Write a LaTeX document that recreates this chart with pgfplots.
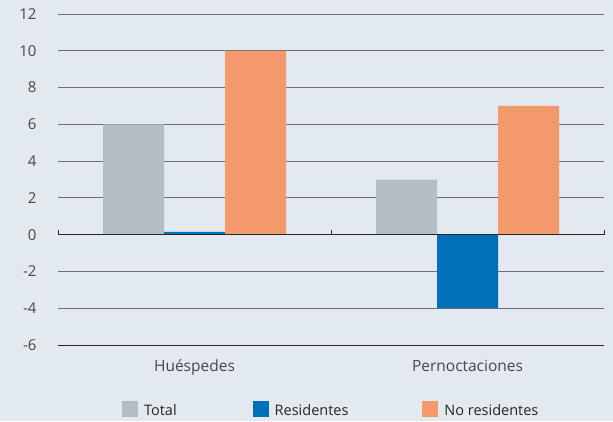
\documentclass[border=0pt]{standalone}
\usepackage{fontspec}
\setmainfont{Open Sans}
\usepackage{pgfplots}
\pgfplotsset{compat=1.18}
\usetikzlibrary{backgrounds}

\definecolor{bgc}{HTML}{E2EAF0}
\definecolor{cTotal}{HTML}{B3BEC3}
\definecolor{cRes}{HTML}{0070B8}
\definecolor{cNoRes}{HTML}{F4996C}
\definecolor{gridc}{HTML}{6A7075}
\definecolor{txtc}{HTML}{474747}

\begin{document}
\begin{tikzpicture}[x=1bp,y=1bp]
\begin{axis}[
    at={(58bp,76bp)}, anchor=south west,
    scale only axis, width=546bp, height=331bp,
    xmin=-0.5, xmax=1.5,
    ymin=-6, ymax=12,
    ytick={-6,-4,...,12},
    xtick={0,1},
    xticklabels={Huéspedes,Pernoctaciones},
    axis line style={draw=none},
    major tick style={draw=none},
    ymajorgrids,
    grid style={gridc, line width=0.8pt},
    yticklabel style={font=\fontsize{15bp}{17bp}\selectfont, text=txtc, anchor=east, xshift=-18bp},
    xticklabel style={font=\fontsize{15.5bp}{17bp}\selectfont, text=txtc, yshift=-7bp},
    /pgf/number format/assume math mode=true,
    axis background/.style={fill=bgc},
    ybar=0pt, bar width=61bp,
    legend columns=3,
    legend style={draw=none, fill=none, at={(0.117,0)}, anchor=west, yshift=-65bp,
      font=\fontsize{14.5bp}{16bp}\selectfont, inner sep=0pt, text=black!85,
      /tikz/column 1/.style={column sep=4bp},
      /tikz/column 3/.style={column sep=4bp},
      /tikz/column 5/.style={column sep=4bp},
      /tikz/column 2/.style={column sep=74bp},
      /tikz/column 4/.style={column sep=72bp}},
    legend image code/.code={\fill[#1] (0bp,-7bp) rectangle (16bp,9bp);},
    clip=false,
]
\addplot[draw=none, fill=cTotal, bar shift=-61bp] coordinates {(0,6) (1,3)};
\addplot[draw=none, fill=cRes, bar shift=0bp] coordinates {(0,0.15) (1,-4)};
\addplot[draw=none, fill=cNoRes, bar shift=61bp] coordinates {(0,10) (1,7)};
\draw[black!85, line width=0.9pt] (axis cs:-0.5,0) -- (axis cs:1.5,0);
\draw[black!85, line width=0.9pt] (axis cs:-0.5,-6) -- (axis cs:1.5,-6);
\draw[black!85, line width=0.9pt] (axis cs:-0.5,0) -- ([yshift=5bp]axis cs:-0.5,0);
\draw[black!85, line width=0.9pt] (axis cs:0.5,0) -- ([yshift=5bp]axis cs:0.5,0);
\draw[black!85, line width=0.9pt] (axis cs:1.5,0) -- ([yshift=5bp]axis cs:1.5,0);
\legend{Total,Residentes,No residentes}
\end{axis}
\begin{scope}[on background layer]
\fill[bgc] (0,0) rectangle (613,421);
\end{scope}
\useasboundingbox (0,0) rectangle (613,421);
\end{tikzpicture}
\end{document}
